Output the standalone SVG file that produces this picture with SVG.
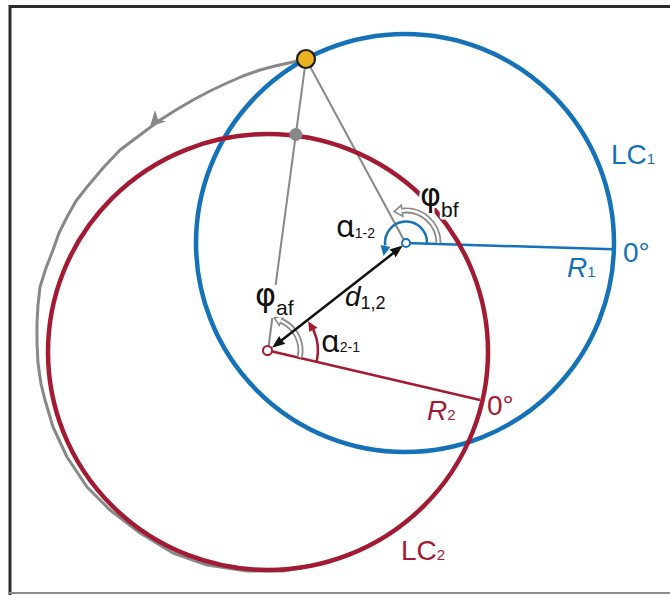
<svg xmlns="http://www.w3.org/2000/svg" width="670" height="595" viewBox="0 0 670 595">
<defs>
<style>
text{font-family:"Liberation Sans",Arial,Helvetica,sans-serif;font-size:28px}
.gr{font-family:"Noto Sans","DejaVu Sans",sans-serif}
.ph{font-family:"DejaVu Sans","Noto Sans",sans-serif}
.b{fill:#1572B8}
.r{fill:#A31A33}
.k{fill:#111}
.it{font-style:italic}
.sub{font-size:15px}
.gl{stroke:#888;stroke-width:2;fill:none}
.traj{stroke:#888;stroke-width:3;fill:none;stroke-linejoin:round}
.halo{stroke:#fff;stroke-width:5;stroke-linejoin:round;paint-order:stroke}
</style>
</defs>
<rect width="670" height="595" fill="#fff"/>
<g id="frame">
<line x1="10" y1="6.5" x2="670" y2="6.5" stroke="#2b2b2b" stroke-width="3"/>
<line x1="10" y1="5" x2="10" y2="595" stroke="#2b2b2b" stroke-width="3"/>
<line x1="9" y1="593" x2="670" y2="593" stroke="#8c8c8c" stroke-width="2"/>
</g>

<g id="connectors">
<polyline class="traj" points="306,59 297,61 293,62 275,66 260,70 243,76 227,83 210,91 193,100 176,110 160,120 140,135 120,150 103,168 87,187 76,201 67,217 59,233 53,250 46,268 40,287 38,305 37,323 37,343 38,363 41,384 45,400 53,427 67,457 87,487 110,510 140,533 173,553 207,565 247,571 283,571 300,568 320,564"/>
<polygon points="150,126.5 155,110 158,119.5 166,121.5" fill="#888"/>
<line class="gl" x1="405.5" y1="243" x2="306" y2="59"/>
<line class="gl" x1="268.4" y1="348" x2="272.3" y2="318"/>
<line class="gl" x1="275.6" y1="285" x2="306" y2="59"/>
</g>

<g id="LC1">
<circle cx="405" cy="243" r="209" fill="none" stroke="#1572B8" stroke-width="4.5"/>
<line x1="406" y1="243" x2="613" y2="249.3" stroke="#1572B8" stroke-width="2.5"/>
</g>

<g id="LC2">
<ellipse cx="268" cy="352" rx="220" ry="218" fill="none" stroke="#A31A33" stroke-width="4.5"/>
<line x1="268" y1="350.5" x2="480" y2="400" stroke="#A31A33" stroke-width="2.5"/>
</g>

<g id="angles">
<path d="M427,243 A21,21 0 1 0 385.2,245.4" fill="none" stroke="#1572B8" stroke-width="2.5"/>
<polygon points="383.5,256 390.4,247 380.6,245" fill="#1572B8"/>
<path d="M438.5,243 A32.5,32.5 0 0 0 402.04,210.74" fill="none" stroke="#8a8a8a" stroke-width="6"/>
<polygon points="394.1,211.7 401.3,205.2 402.8,216.3" fill="#fff" stroke="#8a8a8a" stroke-width="1.6"/>
<path d="M438.5,243 A32.5,32.5 0 0 0 401.3,210.7" fill="none" stroke="#fff" stroke-width="2.4"/>
<path d="M299.79,357.26 A32.5,32.5 0 0 0 281.22,320.81" fill="none" stroke="#8a8a8a" stroke-width="6"/>
<polygon points="274.4,317.8 283.3,316.2 279.2,325.4" fill="#fff" stroke="#8a8a8a" stroke-width="1.6"/>
<path d="M299.79,357.26 A32.5,32.5 0 0 0 280.5,320.5" fill="none" stroke="#fff" stroke-width="2.4"/>
<path d="M316.7,361.7 A50,50 0 0 0 313.2,329.4" fill="none" stroke="#A31A33" stroke-width="2.5"/>
<polygon points="308.2,321.3 317.5,327.8 309.2,331.8" fill="#A31A33"/>
</g>

<g id="distance">
<line x1="281" y1="340.8" x2="394" y2="252.6" stroke="#111" stroke-width="2.5"/>
<polygon points="272,347.8 285.4,343.7 281.2,340.1 279.2,335.9" fill="#111"/>
<polygon points="402.8,245.5 389.4,249.6 393.6,253.2 395.6,257.4" fill="#111"/>
</g>

<g id="center1">
<circle cx="406" cy="243" r="4" fill="#fff" stroke="#1572B8" stroke-width="2"/>
</g>
<g id="center2">
<circle cx="267.5" cy="350.5" r="4.5" fill="#fff" stroke="#A31A33" stroke-width="2"/>
</g>

<g id="projection">
<circle cx="295.8" cy="134.5" r="6.5" fill="#888"/>
</g>
<g id="state">
<circle cx="306" cy="59" r="9" fill="#EBB120" stroke="#1e1e1e" stroke-width="2.2"/>
</g>

<g id="labels">
<text class="b" x="611" y="164">LC<tspan class="sub" font-size="16">1</tspan></text>
<text class="b" x="623" y="262">0°</text>
<text class="b" x="567" y="277"><tspan class="it">R</tspan><tspan class="sub">1</tspan></text>
<text class="r" x="401" y="560">LC<tspan class="sub" font-size="16">2</tspan></text>
<text class="r" x="487" y="415">0°</text>
<text class="r" x="427" y="420"><tspan class="it">R</tspan><tspan class="sub">2</tspan></text>
<text class="k halo" x="420" y="206"><tspan class="ph" font-size="32">φ</tspan><tspan dy="11" font-size="21">bf</tspan></text>
<text class="k" x="336" y="237"><tspan class="gr" font-size="30">α</tspan><tspan font-size="14" dy="1">1-2</tspan></text>
<text class="k" x="321" y="352"><tspan class="gr" font-size="30">α</tspan><tspan font-size="14">2-1</tspan></text>
<text class="k halo" x="255" y="305.5"><tspan class="ph" font-size="32">φ</tspan><tspan dy="9.5" font-size="21">af</tspan></text>
<text class="k" x="345" y="306" font-size="28"><tspan class="it">d</tspan><tspan font-size="18" dy="3">1,2</tspan></text>
</g>
</svg>
